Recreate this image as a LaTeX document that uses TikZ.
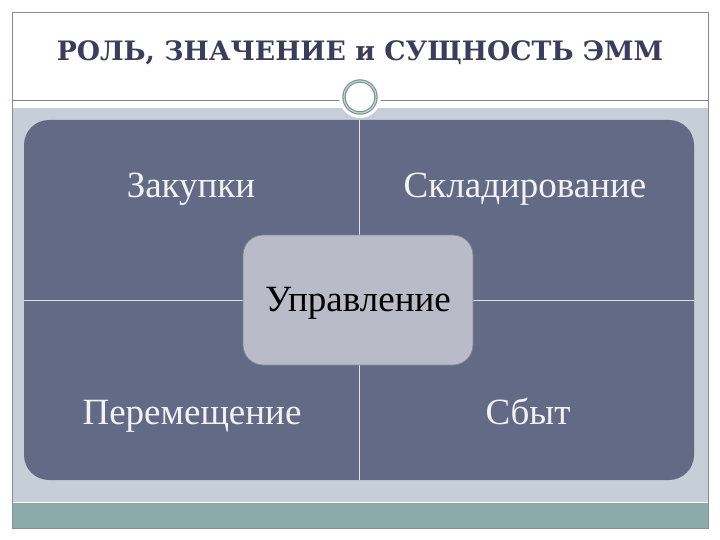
\documentclass[tikz,border=0pt]{standalone}
\usepackage{fontspec}
\setmainfont{Liberation Serif}
\newfontfamily\titlefont{DejaVu Serif}
\usepackage{tikz}

\definecolor{slate}{RGB}{99,106,134}
\definecolor{band}{RGB}{198,207,215}
\definecolor{teal}{RGB}{138,171,170}
\definecolor{centerbox}{RGB}{185,188,200}
\definecolor{titleink}{RGB}{59,61,92}
\definecolor{ringteal}{RGB}{110,147,144}

\tikzset{
	quad/.style={text=white!95!black, font=\fontsize{37}{42}\selectfont, inner sep=0pt, anchor=base},
	crossline/.style={draw=white!80!slate, line width=0.7pt}
}

\begin{document}
\begin{tikzpicture}[x=1pt, y=-1pt]
	\useasboundingbox (0,0) rectangle (720,540);
	\fill[white] (0,0) rectangle (720,540);
	\node (band) at (360,305) [fill=band, minimum width=696pt, minimum height=394pt, inner sep=0pt] {};
	\node (bar) at (360,515) [fill=teal, minimum width=696pt, minimum height=25pt, inner sep=0pt] {};
	\node (frame) at (360,270) [draw=black!45, line width=0.6pt, minimum width=696pt, minimum height=516pt, inner sep=0pt] {};
	\node (title) at (360,61) [anchor=base, inner sep=0pt, text=titleink, font=\titlefont\bfseries\fontsize{26.7}{30}\selectfont] {РОЛЬ, ЗНАЧЕНИЕ и СУЩНОСТЬ ЭММ};
	\node (panel) at (359,300) [fill=slate, rounded corners=25pt, minimum width=670pt, minimum height=360pt, inner sep=0pt] {};
		\draw[crossline] (panel.north) to (panel.south);
		\draw[crossline] (panel.west) to (panel.east);
	\node (upr) at (358,300) [fill=centerbox, draw=black!30!centerbox, line width=0.8pt, rounded corners=20pt, minimum width=230pt, minimum height=130pt] {};
	\node (uprtext) at (358,311) [quad, text=black] {Управление};
	\node (zakupki) at (191,198) [quad] {Закупки};
	\node (sklad) at (525,198) [quad] {Складирование};
	\node (perem) at (192,424) [quad] {Перемещение};
	\node (sbyt) at (528,424) [quad] {Сбыт};
	\draw[draw=black!50, line width=0.8pt] (frame.west |- 0,100) to (frame.east |- 0,100);
	\node (ring) at (360,97) [circle, fill=white, minimum size=42pt, inner sep=0pt] {};
	\node (ringin) at (ring) [circle, draw=ringteal, line width=1.1pt, double=ringteal!40!white, double distance=1.2pt, minimum size=32pt, inner sep=0pt] {};
\end{tikzpicture}
\end{document}
